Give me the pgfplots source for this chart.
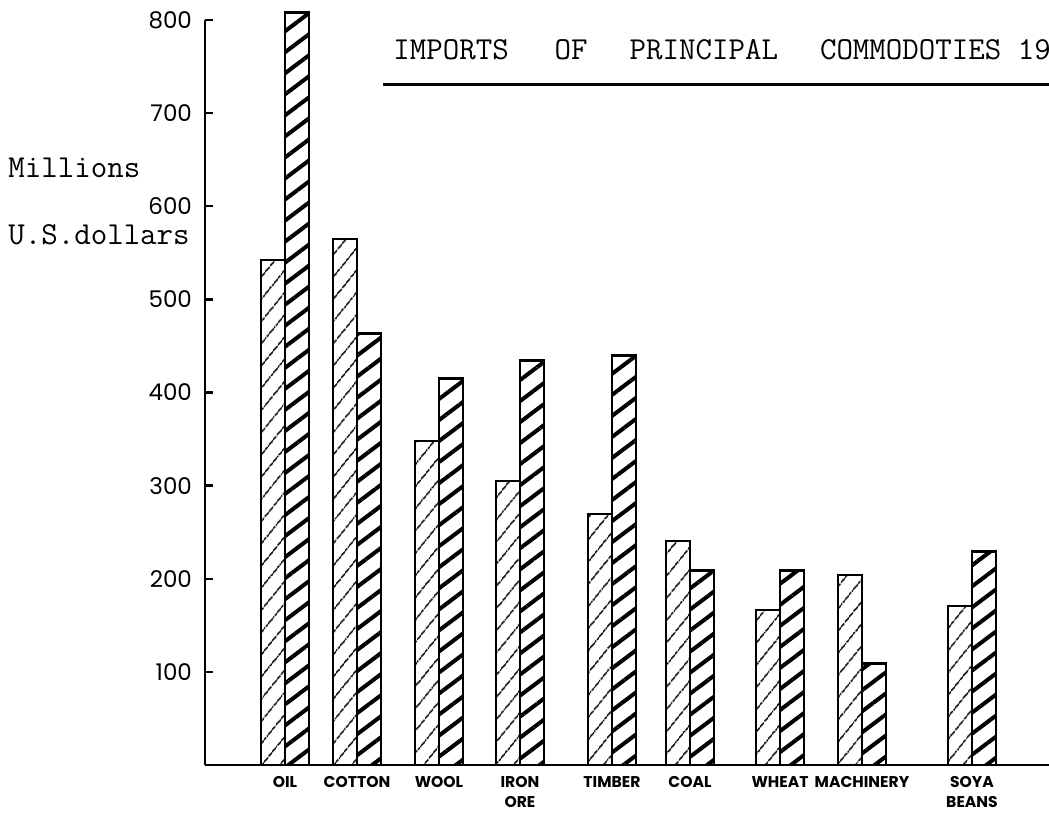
\documentclass[border=0pt]{standalone}
\usepackage{fontspec}
\usepackage{pgfplots}
\pgfplotsset{compat=1.18}
\usepackage{pgfplotstable}
\usetikzlibrary{patterns.meta}
\newfontfamily\hand{Poppins}

% group centre (layout position), value of light bar, value of dark bar (millions US$)
\pgfplotstableread{
x   light dark
285 542   808
357 565   463
439 348   415
520 305   434
612 269   440
690 241   209
780 166   209
862 204   109
972 171   229
}\imports

\begin{document}
\begin{tikzpicture}[x=0.5pt,y=0.5pt]
\path[use as bounding box] (-205,-49) rectangle (844,765);
\begin{axis}[
  at={(0,0)}, anchor=south west,
  scale only axis, width=422pt, height=372.5pt,
  xmin=205, xmax=1049, ymin=0, ymax=800,
  clip=false,
  axis x line*=bottom, axis y line*=left,
  axis line style={line width=1pt},
  ytick={100,200,...,800},
  ytick pos=left,
  tick align=inside,
  major tick length=4pt,
  y tick style={line width=1.2pt, black},
  x tick style={draw=none},
  /pgf/number format/assume math mode=true,
  yticklabel style={font=\hand\fontsize{11.5}{12}\selectfont, xshift=-3pt},
  xtick={285,357,439,520,612,690,780,862,972},
  xticklabels={OIL,COTTON,WOOL,{IRON\\ORE},TIMBER,COAL,WHEAT,MACHINERY,{SOYA\\BEANS}},
  xticklabel style={align=center, font=\hand\bfseries\fontsize{7.8}{10}\selectfont, yshift=-2pt},
]
\addplot[ybar, bar width=24, bar shift=-12, draw=black, line width=1pt,
  pattern={Lines[angle=51, distance=6.9pt, line width=0.8pt]}, pattern color=black]
  table[x=x, y=light] {\imports};
\addplot[ybar, bar width=24, bar shift=12, draw=black, line width=1.4pt,
  pattern={Lines[angle=37, distance=8.4pt, line width=2pt]}, pattern color=black]
  table[x=x, y=dark] {\imports};
\end{axis}
\node[anchor=base west, inner sep=0pt, font=\ttfamily\fontsize{16}{18}\selectfont] at (188,705)
  {IMPORTS\hspace{23pt}OF\hspace{21pt}PRINCIPAL\hspace{21pt}COMMODOTIES 19};
\draw[line width=1.5pt] (178,680) -- (844,680);
\node[anchor=base west, inner sep=0pt, font=\ttfamily\fontsize{16}{18}\selectfont] at (-197,587) {Millions};
\node[anchor=base west, inner sep=0pt, font=\ttfamily\fontsize{16}{18}\selectfont] at (-197,520) {U.S.dollars};
\end{tikzpicture}
\end{document}
